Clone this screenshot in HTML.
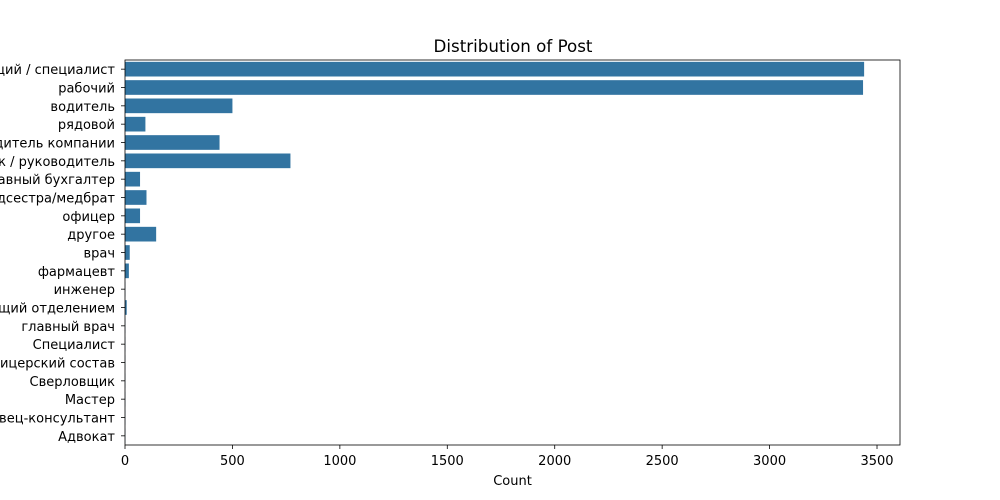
<!DOCTYPE html>
<html><head><meta charset="utf-8"><style>
html,body{margin:0;padding:0;background:#fff;width:1000px;height:500px;overflow:hidden}
svg text{font-family:"DejaVu Sans","Liberation Sans",sans-serif;fill:#000}
</style></head><body>
<svg id="chart" width="1000" height="500" xmlns="http://www.w3.org/2000/svg"></svg>
<script>
const categories=["служащий / специалист","рабочий","водитель","рядовой","руководитель компании","начальник / руководитель","главный бухгалтер","медсестра/медбрат","офицер","другое","врач","фармацевт","инженер","заведующий отделением","главный врач","Специалист","Младший офицерский состав","Сверловщик","Мастер","Продавец-консультант","Адвокат"];
const counts=[3440,3435,500,95,440,770,70,100,70,145,22,18,1,8,1,1,1,1,1,1,1];
const xTicks=[0,500,1000,1500,2000,2500,3000,3500];
const xMax=3607;
const L=125,R=900,T=60,B=445;
const svg=document.getElementById('chart');
const NS='http://www.w3.org/2000/svg';
function mk(t,a,p){const e=document.createElementNS(NS,t);for(const k in a)e.setAttribute(k,a[k]);(p||svg).appendChild(e);return e;}
const xs=v=>L+(R-L)*v/xMax;
const band=(B-T)/categories.length;
const ys=i=>T+band*i;
const title=mk('text',{x:(L+R)/2+0.5,y:52,'text-anchor':'middle','font-size':16.7});
title.textContent='Distribution of Post';


categories.forEach((c,i)=>{
  const r=mk('rect',{x:L,y:ys(i)+band*0.1,width:Math.max(0,xs(counts[i])-L),height:band*0.8,fill:'#3274a1'});
  
  
  const yc=ys(i)+band/2;
  mk('line',{x1:L-4,x2:L,y1:yc,y2:yc,stroke:'#000','stroke-width':0.8});
  const t=mk('text',{x:L-10,y:yc+5,'text-anchor':'end','font-size':13});
  t.textContent=c;
  
  
});
xTicks.forEach(v=>{
  const x=xs(v);
  mk('line',{x1:x,x2:x,y1:B,y2:B+4,stroke:'#000','stroke-width':0.8});
  const t=mk('text',{x:x,y:B+20,'text-anchor':'middle','font-size':13});
  t.textContent=v;
  
  
});
const frame=mk('rect',{x:L,y:T,width:R-L,height:B-T,fill:'none',stroke:'#000','stroke-width':0.8});


const xl=mk('text',{x:(L+R)/2,y:485,'text-anchor':'middle','font-size':13});
xl.textContent='Count';


</script>
</body></html>
